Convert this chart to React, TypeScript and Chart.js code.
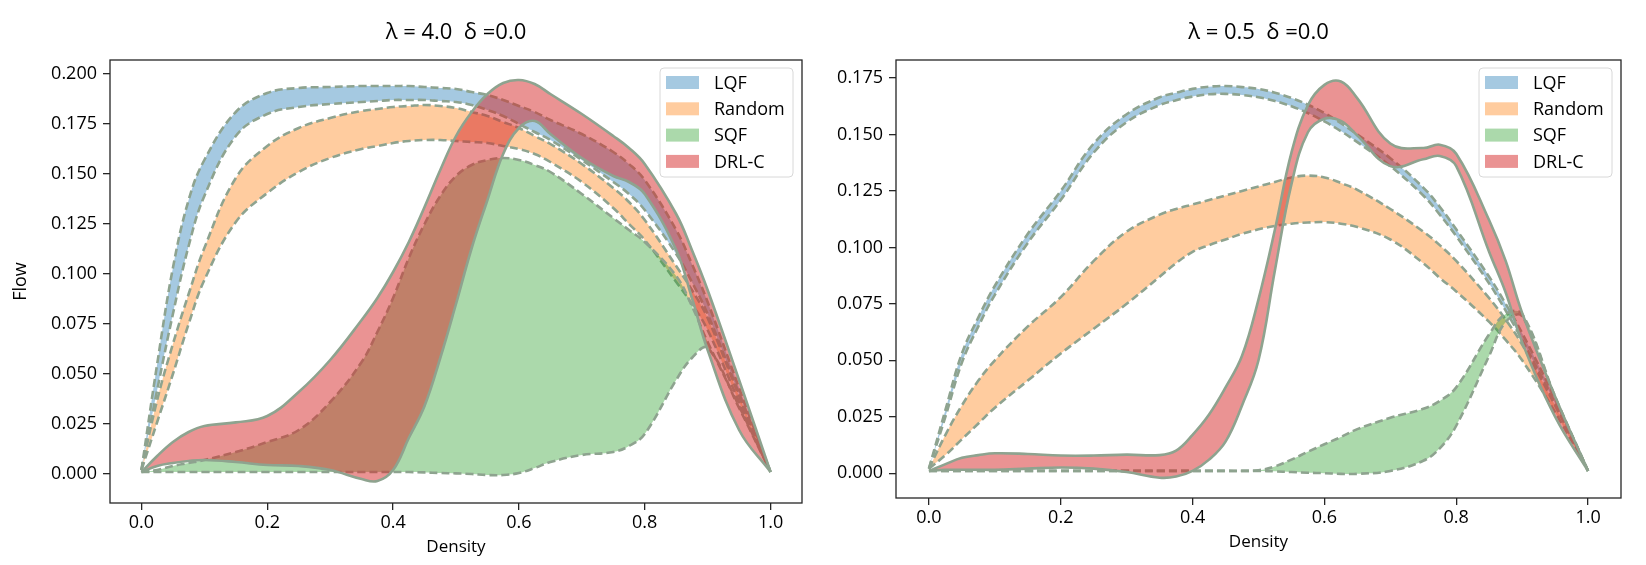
import { useEffect, useRef } from "react";
import { Chart, registerables } from "chart.js";

Chart.register(...registerables);

Chart.defaults.font.family = '"Open Sans", "DejaVu Sans", sans-serif';
Chart.defaults.color = "#000";

// density grid shared by every curve (finer where the curves bend fast)
const DENSITY = [
  0, 0.025, 0.05, 0.075, 0.1, 0.15, 0.2, 0.25, 0.3, 0.35, 0.375, 0.4, 0.425, 0.45, 0.475, 0.5,
  0.525, 0.55, 0.575, 0.6, 0.625, 0.65, 0.7, 0.75, 0.775, 0.8, 0.85, 0.875, 0.9, 0.95, 1.0,
];

const X_TICKS = [0, 0.2, 0.4, 0.6, 0.8, 1.0];
const Y_TICKS_L4 = [0, 0.025, 0.05, 0.075, 0.1, 0.125, 0.15, 0.175, 0.2];
const Y_TICKS_L05 = [0, 0.025, 0.05, 0.075, 0.1, 0.125, 0.15, 0.175];

const METHODS = ["LQF", "Random", "SQF", "DRL-C"];

// lambda = 4.0, delta = 0.0  (upper / lower edge of each band)
const L4_LQF_HI = [0.002, 0.055, 0.103, 0.137, 0.157, 0.181, 0.1905, 0.193, 0.1935, 0.194, 0.194, 0.194, 0.194, 0.1935, 0.193, 0.1925, 0.191, 0.1895, 0.187, 0.184, 0.181, 0.177, 0.17, 0.161, 0.155, 0.147, 0.122, 0.105, 0.086, 0.043, 0.001];
const L4_LQF_LO = [0.002, 0.042, 0.08, 0.114, 0.139, 0.169, 0.18, 0.1835, 0.185, 0.186, 0.1865, 0.187, 0.187, 0.187, 0.1865, 0.186, 0.1845, 0.182, 0.179, 0.175, 0.171, 0.167, 0.157, 0.146, 0.14, 0.132, 0.11, 0.096, 0.08, 0.04, 0.001];
const L4_RANDOM_HI = [0.002, 0.037, 0.065, 0.09, 0.113, 0.148, 0.164, 0.173, 0.178, 0.1815, 0.1825, 0.1835, 0.184, 0.1845, 0.184, 0.183, 0.181, 0.179, 0.176, 0.173, 0.169, 0.165, 0.155, 0.143, 0.136, 0.127, 0.104, 0.092, 0.078, 0.039, 0.001];
const L4_RANDOM_LO = [0.002, 0.026, 0.05, 0.075, 0.097, 0.126, 0.1405, 0.151, 0.158, 0.1625, 0.164, 0.1655, 0.1665, 0.167, 0.167, 0.1665, 0.166, 0.1655, 0.164, 0.1625, 0.16, 0.156, 0.146, 0.133, 0.125, 0.117, 0.096, 0.085, 0.072, 0.036, 0.001];
const L4_SQF_HI = [0.001, 0.002, 0.004, 0.0055, 0.007, 0.011, 0.016, 0.022, 0.036, 0.056, 0.071, 0.088, 0.108, 0.125, 0.139, 0.149, 0.1545, 0.157, 0.158, 0.157, 0.1545, 0.151, 0.14, 0.128, 0.122, 0.116, 0.099, 0.084, 0.066, 0.034, 0.001];
const L4_SQF_LO = [0.001, 0.001, 0.001, 0.001, 0.001, 0.001, 0.001, 0.001, 0.001, 0.001, 0.001, 0.001, 0.001, 0.0008, 0.0005, 0.0003, 0, -0.0005, -0.0005, 0.0005, 0.003, 0.006, 0.0095, 0.011, 0.014, 0.02, 0.047, 0.058, 0.063, 0.033, 0.001];
const L4_DRLC_HI = [0.001, 0.009, 0.016, 0.021, 0.024, 0.0258, 0.029, 0.041, 0.057, 0.077, 0.088, 0.101, 0.116, 0.1335, 0.152, 0.169, 0.181, 0.19, 0.1955, 0.197, 0.195, 0.19, 0.18, 0.169, 0.163, 0.155, 0.13, 0.112, 0.092, 0.047, 0.001];
const L4_DRLC_LO = [0.001, 0.004, 0.0055, 0.0065, 0.007, 0.006, 0.0045, 0.004, 0.002, -0.0025, -0.0035, 0.002, 0.018, 0.034, 0.058, 0.085, 0.113, 0.137, 0.16, 0.173, 0.1765, 0.17, 0.158, 0.149, 0.146, 0.14, 0.112, 0.088, 0.062, 0.022, 0.001];

// lambda = 0.5, delta = 0.0
const L05_LQF_HI = [0.002, 0.028, 0.053, 0.069, 0.083, 0.106, 0.125, 0.146, 0.159, 0.1665, 0.1685, 0.1702, 0.1712, 0.1715, 0.171, 0.1702, 0.1685, 0.1662, 0.1632, 0.1595, 0.155, 0.15, 0.1395, 0.1265, 0.118, 0.108, 0.087, 0.075, 0.062, 0.033, 0.001];
const L05_LQF_LO = [0.002, 0.025, 0.049, 0.065, 0.079, 0.102, 0.121, 0.142, 0.1555, 0.163, 0.1652, 0.1668, 0.1678, 0.168, 0.1675, 0.1665, 0.1648, 0.1625, 0.1595, 0.1558, 0.1515, 0.1466, 0.136, 0.123, 0.1145, 0.105, 0.084, 0.072, 0.059, 0.031, 0.001];
const L05_RANDOM_HI = [0.002, 0.017, 0.03, 0.041, 0.05, 0.065, 0.078, 0.094, 0.107, 0.1145, 0.117, 0.119, 0.121, 0.123, 0.125, 0.127, 0.129, 0.131, 0.1318, 0.131, 0.1285, 0.1255, 0.117, 0.107, 0.101, 0.094, 0.0775, 0.068, 0.057, 0.03, 0.001];
const L05_RANDOM_LO = [0.002, 0.008, 0.015, 0.022, 0.029, 0.041, 0.053, 0.064, 0.075, 0.087, 0.093, 0.098, 0.101, 0.1035, 0.106, 0.108, 0.1095, 0.1105, 0.111, 0.1112, 0.1105, 0.109, 0.1035, 0.093, 0.0865, 0.0805, 0.067, 0.059, 0.05, 0.027, 0.001];
const L05_SQF_HI = [0.001, 0.001, 0.001, 0.001, 0.001, 0.001, 0.001, 0.001, 0.001, 0.001, 0.001, 0.001, 0.001, 0.001, 0.001, 0.0013, 0.003, 0.006, 0.0095, 0.0128, 0.016, 0.0195, 0.0245, 0.0285, 0.032, 0.038, 0.0615, 0.0705, 0.0705, 0.034, 0.001];
const L05_SQF_LO = [0.001, 0.001, 0.001, 0.001, 0.001, 0.001, 0.001, 0.001, 0.001, 0.001, 0.001, 0.001, 0.001, 0.001, 0.001, 0.001, 0.0008, 0.0005, 0.0002, 0, -0.0003, -0.0003, 0.001, 0.0055, 0.011, 0.021, 0.052, 0.067, 0.0695, 0.0335, 0.001];
const L05_DRLC_HI = [0.001, 0.004, 0.0068, 0.008, 0.0088, 0.0085, 0.0078, 0.0078, 0.0082, 0.008, 0.01, 0.017, 0.026, 0.038, 0.052, 0.077, 0.108, 0.142, 0.163, 0.172, 0.1735, 0.166, 0.146, 0.144, 0.1455, 0.1415, 0.112, 0.094, 0.071, 0.034, 0.001];
const L05_DRLC_LO = [0.001, 0.0015, 0.0015, 0.0015, 0.0015, 0.002, 0.0025, 0.002, 0.0005, -0.002, -0.0015, 0.001, 0.006, 0.014, 0.03, 0.05, 0.09, 0.128, 0.151, 0.157, 0.156, 0.1495, 0.136, 0.139, 0.1405, 0.136, 0.098, 0.08, 0.058, 0.025, 0.001];

const EDGE = "#8ea38f";
const FILLS: Record<string, string> = {
  LQF: "rgba(31, 119, 180, 0.4)",
  Random: "rgba(255, 127, 14, 0.4)",
  SQF: "rgba(44, 160, 44, 0.4)",
  "DRL-C": "rgba(214, 39, 40, 0.5)",
};

type Band = { label: string; hi: number[]; lo: number[] };

type Panel = {
  title: string;
  bands: Band[];
  yMin: number;
  yMax: number;
  yTicks: number[];
  yTitle: string;
  left: number;
  yAxisWidth: number;
  padRight: number;
  xAxisHeight: number;
  xTitlePad: number;
};

const PANELS: Panel[] = [
  {
    title: "λ = 4.0  δ =0.0",
    bands: [
      { label: "LQF", hi: L4_LQF_HI, lo: L4_LQF_LO },
      { label: "Random", hi: L4_RANDOM_HI, lo: L4_RANDOM_LO },
      { label: "SQF", hi: L4_SQF_HI, lo: L4_SQF_LO },
      { label: "DRL-C", hi: L4_DRLC_HI, lo: L4_DRLC_LO },
    ],
    yMin: -0.0145,
    yMax: 0.207,
    yTicks: Y_TICKS_L4,
    yTitle: "Flow",
    left: 0,
    yAxisWidth: 110,
    padRight: 21,
    xAxisHeight: 62,
    xTitlePad: 7.8,
  },
  {
    title: "λ = 0.5  δ =0.0",
    bands: [
      { label: "LQF", hi: L05_LQF_HI, lo: L05_LQF_LO },
      { label: "Random", hi: L05_RANDOM_HI, lo: L05_RANDOM_LO },
      { label: "SQF", hi: L05_SQF_HI, lo: L05_SQF_LO },
      { label: "DRL-C", hi: L05_DRLC_HI, lo: L05_DRLC_LO },
    ],
    yMin: -0.011,
    yMax: 0.183,
    yTicks: Y_TICKS_L05,
    yTitle: "",
    left: 823,
    yAxisWidth: 73,
    padRight: 25,
    xAxisHeight: 67,
    xTitlePad: 12.8,
  },
];

const CANVAS_W = 823;
const CANVAS_H = 565;

const points = (ys: number[]) => DENSITY.map((x, i) => ({ x, y: ys[i] }));

function bandDatasets(bands: Band[]) {
  // chart.js paints the first dataset last, so reverse to keep DRL-C on top
  return [...bands].reverse().flatMap((b) => {
    const dash = b.label === "DRL-C" ? [] : [8, 4];
    const common = {
      borderColor: EDGE,
      borderWidth: 2.6,
      borderDash: dash,
      pointRadius: 0,
      tension: 0.4,
    };
    return [
      { ...common, label: b.label, data: points(b.hi), fill: false },
      { ...common, label: b.label + " lo", data: points(b.lo), fill: "-1", backgroundColor: FILLS[b.label] },
    ];
  });
}

// axes frame + legend box in the upper right corner
const framePlugin = {
  id: "frameAndLegend",
  afterDatasetsDraw(chart: Chart) {
    const { ctx, chartArea } = chart;
    ctx.save();
    ctx.strokeStyle = "#262626";
    ctx.lineWidth = 1.3;
    ctx.strokeRect(chartArea.left, chartArea.top, chartArea.right - chartArea.left, chartArea.bottom - chartArea.top);

    const w = 133;
    const h = 109;
    const x = chartArea.right - 9 - w;
    const y = chartArea.top + 8;
    ctx.beginPath();
    ctx.roundRect(x, y, w, h, 4);
    ctx.fillStyle = "rgba(255,255,255,0.8)";
    ctx.fill();
    ctx.strokeStyle = "#d8d8d8";
    ctx.lineWidth = 1;
    ctx.stroke();

    ctx.font = '18px "Open Sans", sans-serif';
    ctx.textBaseline = "middle";
    METHODS.forEach((m, i) => {
      const cy = y + 14.5 + i * 26.3;
      ctx.fillStyle = FILLS[m];
      ctx.fillRect(x + 6, cy - 6.5, 33, 13);
      ctx.fillStyle = "#000";
      ctx.fillText(m, x + 54, cy + 1);
    });
    ctx.restore();
  },
};

function BandChart({ panel }: { panel: Panel }) {
  const canvasRef = useRef<HTMLCanvasElement>(null);

  useEffect(() => {
    if (!canvasRef.current) return;

    const chart = new Chart(canvasRef.current, {
      type: "line",
      data: { datasets: bandDatasets(panel.bands) as any },
      plugins: [framePlugin],
      options: {
        animation: false,
        responsive: false,
        layout: { padding: { left: 0, right: panel.padRight, top: 0, bottom: 0 } },
        plugins: {
          legend: { display: false },
          tooltip: { enabled: false },
          filler: { drawTime: "beforeDatasetDraw" },
          title: {
            display: true,
            text: panel.title,
            fullSize: false,
            color: "#000",
            font: { size: 22, weight: "normal" },
            padding: { top: 20, bottom: 13.6 },
          },
        },
        scales: {
          x: {
            type: "linear",
            min: -0.05,
            max: 1.05,
            afterBuildTicks: (s: any) => {
              s.ticks = X_TICKS.map((v) => ({ value: v }));
            },
            afterFit: (s: any) => {
              s.height = panel.xAxisHeight;
            },
            ticks: {
              callback: (v: any) => Number(v).toFixed(1),
              font: { size: 18 },
              color: "#000",
              padding: 2,
              maxRotation: 0,
              autoSkip: false,
            },
            grid: { drawOnChartArea: false, tickLength: 7, color: "#262626", lineWidth: 1.3 },
            border: { display: false },
            title: {
              display: true,
              text: "Density",
              font: { size: 17 },
              color: "#000",
              padding: { top: 0, bottom: panel.xTitlePad },
            },
          },
          y: {
            type: "linear",
            min: panel.yMin,
            max: panel.yMax,
            afterBuildTicks: (s: any) => {
              s.ticks = panel.yTicks.map((v) => ({ value: v }));
            },
            afterFit: (s: any) => {
              s.width = panel.yAxisWidth;
            },
            ticks: {
              callback: (v: any) => Number(v).toFixed(3),
              font: { size: 18 },
              color: "#000",
              padding: 6,
              autoSkip: false,
            },
            grid: { drawOnChartArea: false, tickLength: 7, color: "#262626", lineWidth: 1.3 },
            border: { display: false },
            title: {
              display: panel.yTitle !== "",
              text: panel.yTitle,
              font: { size: 18 },
              color: "#000",
              padding: { top: 10, bottom: 0 },
            },
          },
        },
      },
    });

    return () => {
      chart.destroy();
    };
  }, [panel]);

  return (
    <div style={{ position: "absolute", left: panel.left, top: 0, width: CANVAS_W, height: CANVAS_H }}>
      <canvas ref={canvasRef} width={CANVAS_W} height={CANVAS_H} style={{ width: CANVAS_W, height: CANVAS_H }} />
    </div>
  );
}

export default function App() {
  return (
    <div style={{ position: "absolute", left: 0, top: 0, width: 1646, height: 565, background: "#fff" }}>
      {PANELS.map((p) => (
        <BandChart key={p.title} panel={p} />
      ))}
    </div>
  );
}
